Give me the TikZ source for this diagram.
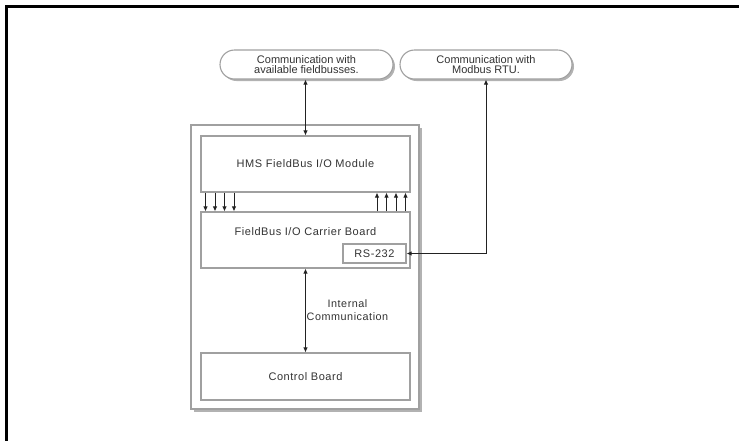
\documentclass[tikz,border=0pt]{standalone}
\usepackage{fontspec}
\setmainfont{Liberation Sans}
\newfontfamily\widesans[LetterSpace=5]{Liberation Sans}
\usetikzlibrary{shadows,arrows.meta,shapes.misc}
\definecolor{boxgray}{HTML}{A0A0A0}
\definecolor{txtgray}{HTML}{333333}
\definecolor{arrgray}{HTML}{222222}
\tikzset{
  boxstyle/.style={draw=boxgray,line width=1.1pt,fill=white,inner sep=0pt,rectangle},
  cloudstyle/.style={draw=boxgray,line width=1.1pt,fill=white,rounded rectangle,inner sep=0pt,
     drop shadow={shadow xshift=2pt,shadow yshift=-2pt,opacity=0.3,fill=black},
     align=center,font=\fontsize{11}{10.5}\selectfont,text=txtgray},
  lbl/.style={font=\widesans\fontsize{11}{13}\selectfont,text=txtgray,align=center,inner sep=0pt},
  lblsmall/.style={font=\widesans\fontsize{10.8}{13.5}\selectfont,text=txtgray,align=center,inner sep=0pt},
  arr/.style={draw=arrgray,line width=0.9pt,-{Latex[length=5pt,width=4.5pt]}},
  arrboth/.style={draw=arrgray,line width=0.9pt,{Latex[length=5pt,width=4.5pt]}-{Latex[length=5pt,width=4.5pt]}}
}
\begin{document}
\begin{tikzpicture}[x=1pt,y=-1pt]
\useasboundingbox (0,0) rectangle (739,440);
\fill[white] (0,0) rectangle (739,440);
% frame
\draw[line width=3pt,black] (6,441) -- (6,6) -- (740,6);
% outer box
\node[boxstyle,minimum width=228pt,minimum height=284pt,
  drop shadow={shadow xshift=2.5pt,shadow yshift=-2.5pt,opacity=0.3,fill=black}] (outer) at (305,267) {};
% inner boxes
\node[boxstyle,minimum width=209pt,minimum height=56pt,lbl] (hms) at (305.5,164) {HMS FieldBus I/O Module};
\node[boxstyle,minimum width=209pt,minimum height=56pt] (carrier) at (305.5,240) {};
\node[lbl] (carriertext) at (305.5,232) {FieldBus I/O Carrier Board};
\node[boxstyle,minimum width=63pt,minimum height=19pt,lbl] (rs) at (374.5,253.5) {RS-232};
\node[boxstyle,minimum width=209pt,minimum height=47pt,lbl] (control) at (305.5,376.5) {Control Board};
% clouds
\node[cloudstyle,minimum width=173pt,minimum height=29pt] (leftcloud) at (306.5,64.5) {Communication with\\available fieldbusses.};
\node[cloudstyle,minimum width=172pt,minimum height=29pt] (rightcloud) at (486,64.5) {Communication with\\Modbus RTU.};
% arrows
\draw[arrboth] (hms.north |- leftcloud.south) -- (hms.north);
\foreach \s in {-100,-90.5,-81,-71.5}
  \draw[arr] ([xshift=\s pt]hms.south) -- ([xshift=\s pt]carrier.north);
\foreach \s in {71.5,81,90.5,100}
  \draw[arr] ([xshift=\s pt]carrier.north) -- ([xshift=\s pt]hms.south);
\draw[arrboth] (rightcloud.south) |- (rs.east);
\draw[arrboth] (carrier.south) -- (control.north);
\node[lblsmall] (internal) at (347.5,310) {Internal\\Communication};
\end{tikzpicture}
\end{document}
